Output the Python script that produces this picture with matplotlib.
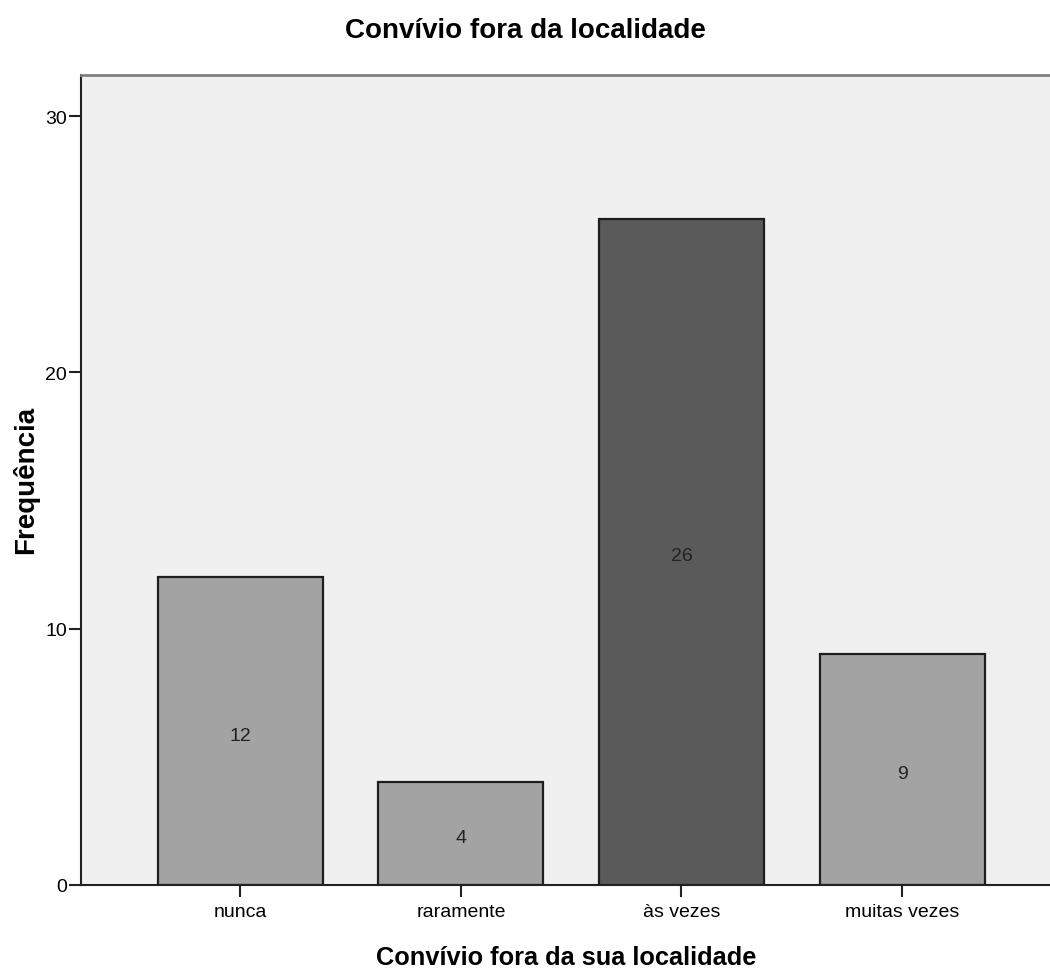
import matplotlib
matplotlib.use("Agg")
import matplotlib.pyplot as plt

categories = ["nunca", "raramente", "às vezes", "muitas vezes"]
counts = [12, 4, 26, 9]
bar_colors = ["#a3a3a3", "#a3a3a3", "#5a5a5a", "#a3a3a3"]
y_ticks = [0, 10, 20, 30]

plt.rcParams["font.family"] = ["Liberation Sans", "DejaVu Sans"]

W, H = 1050, 970
fig = plt.figure(figsize=(W / 100, H / 100), dpi=100)
ax = fig.add_axes([81 / W, 1 - 886 / H, 1 - 81 / W, (886 - 76) / H])
ax.set_facecolor("#f0f0f0")

x = list(range(len(categories)))
ax.bar(x, counts, width=0.748, color=bar_colors, edgecolor="#1e1e1e",
       linewidth=1.6, zorder=2)

for xi, v in zip(x, counts):
    ax.annotate(str(v), xy=(xi, v / 2), xytext=(0, -3), textcoords="offset points",
                ha="center", va="center", fontsize=14, color="#222222")

ax.set_xlim(-0.723, 3.671)
ax.set_ylim(0, 31.6)
ax.set_xticks(x)
ax.set_xticklabels(categories, fontsize=14)
ax.set_yticks(y_ticks)
ax.set_yticklabels([str(t) for t in y_ticks], fontsize=14)
ax.tick_params(direction="out", length=8.5, width=1.5, color="#222222", pad=1.5)
ax.tick_params(axis="x", pad=4.5)

for s in ["left", "bottom"]:
    ax.spines[s].set_color("#222222")
    ax.spines[s].set_linewidth(1.5)
ax.spines["top"].set_color("#808080")
ax.spines["top"].set_linewidth(2)
ax.spines["right"].set_visible(False)

# titles and axis labels placed in figure pixels
fig.text(525 / W, 1 - 38 / H, "Convívio fora da localidade",
         ha="center", va="baseline", fontsize=20, fontweight="bold")
fig.text(566 / W, 1 - 965 / H, "Convívio fora da sua localidade",
         ha="center", va="baseline", fontsize=18.25, fontweight="bold")
fig.text(39 / W, 1 - 480 / H, "Frequência", rotation=90,
         ha="right", va="center", fontsize=20, fontweight="bold")

fig.savefig("out.png", dpi=100)
